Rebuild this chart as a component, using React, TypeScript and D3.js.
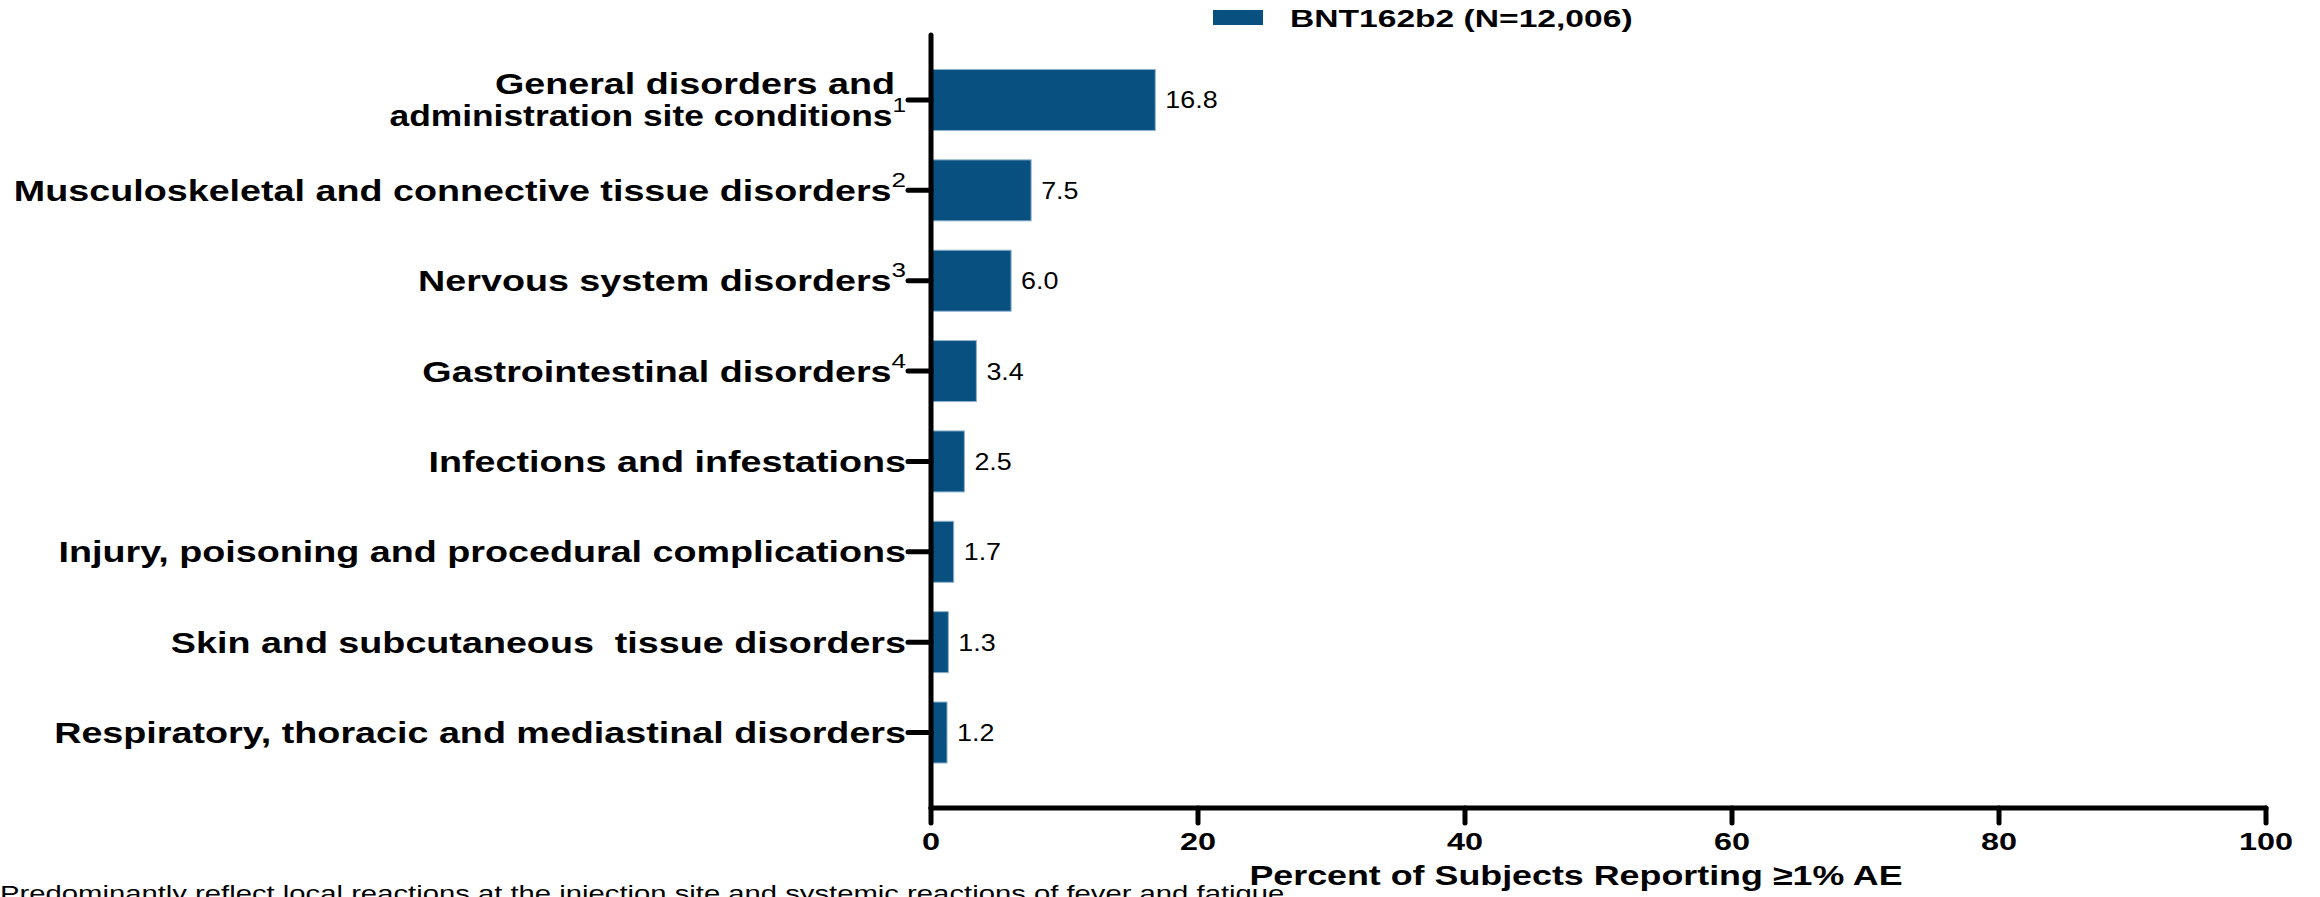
import React from "react";
import * as d3 from "d3";

const categories = [
  "General disorders and\nadministration site conditions",
  "Musculoskeletal and connective tissue disorders",
  "Nervous system disorders",
  "Gastrointestinal disorders",
  "Infections and infestations",
  "Injury, poisoning and procedural complications",
  "Skin and subcutaneous  tissue disorders",
  "Respiratory, thoracic and mediastinal disorders",
];
const superscripts = ["1", "2", "3", "4", "", "", "", ""];
const values = [16.8, 7.5, 6.0, 3.4, 2.5, 1.7, 1.3, 1.2];
const xTicks = [0, 20, 40, 60, 80, 100];
const seriesName = "BNT162b2 (N=12,006)";
const xTitle = "Percent of Subjects Reporting \u22651% AE";
const footnote =
  "Predominantly reflect local reactions at the injection site and systemic reactions of fever and fatigue";

const W = 2320;
const H = 897;
const BAR = "#08507F";
const FONT = "'Liberation Sans', Arial, Helvetica, sans-serif";

export default function App() {
  const x = d3.scaleLinear().domain([0, 100]).range([931, 2266]);
  const y = d3
    .scaleBand<string>()
    .domain(categories)
    .range([54.8, 777.7])
    .paddingInner(0.325)
    .paddingOuter(0.1625);
  const axisY = 808;
  const axisTop = 35;
  const labelX = 906;
  const sxLabel = 1.3;

  return (
    <div style={{ position: "absolute", left: 0, top: 0, width: W, height: H, overflow: "hidden", background: "#fff" }}>
      <svg width={W} height={H} style={{ display: "block", fontFamily: FONT }}>
        {/* legend */}
        <rect x={1213} y={10} width={50} height={15} fill={BAR} />
        <text
          transform={`translate(1290,27) scale(1.4,1)`}
          fontSize={24}
          fontWeight="bold"
          fill="#000"
        >
          {seriesName}
        </text>

        {/* bars */}
        {categories.map((c, i) => {
          const y0 = y(c)!;
          const bw = y.bandwidth();
          return (
            <g key={c}>
              <rect
                x={x(0)}
                y={y0}
                width={x(values[i]) - x(0)}
                height={bw}
                fill={BAR}
                stroke="#8db2cf"
                strokeWidth={1}
              />
              <text
                transform={`translate(${x(values[i]) + 10},${y0 + bw / 2 + 8.5}) scale(1.12,1)`}
                fontSize={24}
                fill="#000"
              >
                {values[i].toFixed(1)}
              </text>
            </g>
          );
        })}

        {/* y axis */}
        <line x1={x(0)} x2={x(0)} y1={axisTop} y2={axisY} stroke="#000" strokeWidth={5} strokeLinecap="round" />
        {categories.map((c, i) => {
          const cy = y(c)! + y.bandwidth() / 2;
          const lines = c.split("\n");
          return (
            <g key={"t" + c}>
              <line x1={908} x2={x(0)} y1={cy} y2={cy} stroke="#000" strokeWidth={5} strokeLinecap="round" />
              {lines.length === 1 ? (
                <text
                  transform={`translate(${labelX},${cy + 10.5}) scale(${sxLabel},1)`}
                  textAnchor="end"
                  fontSize={29}
                  fontWeight="bold"
                  style={{ whiteSpace: "pre" }}
                >
                  {lines[0]}
                  {superscripts[i] && (
                    <tspan fontSize={20} fontWeight="normal" dy={-14}>
                      {superscripts[i]}
                    </tspan>
                  )}
                </text>
              ) : (
                <g>
                  <text
                    transform={`translate(${labelX - 11},${cy - 5.5}) scale(${sxLabel},1)`}
                    textAnchor="end"
                    fontSize={29}
                    fontWeight="bold"
                  >
                    {lines[0]}
                  </text>
                  <text
                    transform={`translate(${labelX},${cy + 26}) scale(1.22,1)`}
                    textAnchor="end"
                    fontSize={29}
                    fontWeight="bold"
                  >
                    {lines[1]}
                    {superscripts[i] && (
                      <tspan fontSize={20} fontWeight="normal" dy={-14}>
                        {superscripts[i]}
                      </tspan>
                    )}
                  </text>
                </g>
              )}
            </g>
          );
        })}

        {/* x axis */}
        <line x1={x(0)} x2={x(100)} y1={axisY} y2={axisY} stroke="#000" strokeWidth={5} strokeLinecap="round" />
        {xTicks.map((t) => (
          <g key={"x" + t}>
            <line x1={x(t)} x2={x(t)} y1={axisY} y2={axisY + 15} stroke="#000" strokeWidth={5} strokeLinecap="round" />
            <text
              transform={`translate(${x(t)},850) scale(1.35,1)`}
              textAnchor="middle"
              fontSize={24}
              fontWeight="bold"
            >
              {t}
            </text>
          </g>
        ))}
        <text
          transform={`translate(1576,885) scale(1.28,1)`}
          textAnchor="middle"
          fontSize={28}
          fontWeight="bold"
        >
          {xTitle}
        </text>

        {/* footnote (cut off at the bottom edge, as in the original) */}
        <text transform={`translate(0,901) scale(1.33,1)`} fontSize={22}>
          {footnote}
        </text>
      </svg>
    </div>
  );
}
